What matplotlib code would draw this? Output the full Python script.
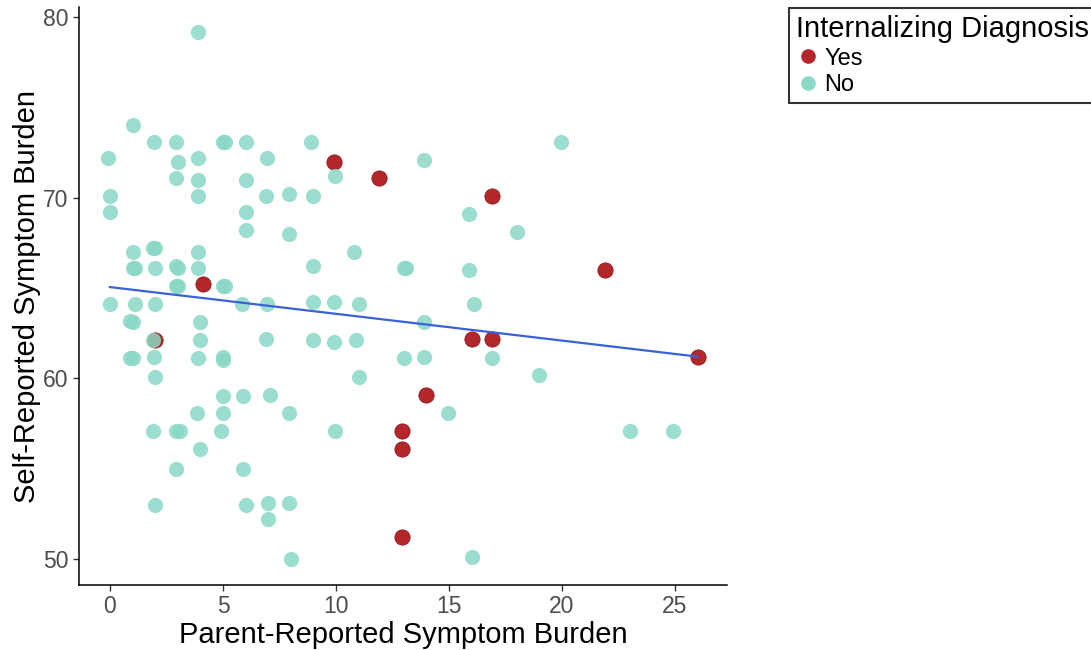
import numpy as np
import matplotlib
matplotlib.use("Agg")
import matplotlib.pyplot as plt
from matplotlib.lines import Line2D

plt.rcParams["font.family"] = ["Liberation Sans", "DejaVu Sans"]

# parent- vs self-reported burden, split by internalizing diagnosis
no_x = [-0.1, 0.0, 0.0, 0.0, 1.0, 1.0, 1.0, 1.1, 1.0, 0.9, 1.1, 0.9, 1.0,
        1.95, 1.9, 2.0, 2.0, 2.0, 1.9, 1.95, 2.0, 1.9, 2.0,
        2.9, 3.0, 2.9, 2.9, 3.0, 2.9, 3.0, 2.9, 3.1, 2.9,
        3.9, 3.9, 3.9, 3.9, 3.9, 3.9, 4.0, 4.0, 3.9, 3.85, 4.0,
        5.0, 5.1, 5.0, 5.1, 5.0, 5.0, 5.0, 5.0, 4.9,
        6.0, 6.0, 6.0, 6.0, 5.85, 5.9, 5.9, 6.0,
        6.95, 6.9, 6.95, 6.9, 7.1, 7.0, 7.0,
        7.9, 7.9, 7.9, 7.9, 8.0,
        8.9, 9.0, 9.0, 9.0, 9.0,
        9.95, 9.9, 9.9, 9.95,
        10.8, 11.0, 10.9, 11.0,
        13.0, 13.1, 13.0, 13.9, 13.9, 13.9, 14.95,
        15.9, 15.9, 16.1, 16.0, 16.9, 18.0, 19.0, 19.95, 23.0, 24.9]
no_y = [72.2, 70.1, 69.2, 64.1, 74.0, 67.0, 66.1, 66.1, 63.1, 63.2, 64.1, 61.1, 61.1,
        73.1, 67.2, 67.2, 66.1, 64.1, 62.1, 61.2, 60.1, 57.1, 53.0,
        73.1, 72.0, 71.1, 66.2, 66.1, 65.1, 65.1, 57.1, 57.1, 55.0,
        79.2, 72.2, 71.0, 70.1, 67.0, 66.1, 63.1, 62.1, 61.1, 58.1, 56.1,
        73.1, 73.1, 65.1, 65.1, 61.2, 61.0, 59.0, 58.1, 57.1,
        73.1, 71.0, 69.2, 68.2, 64.1, 59.0, 55.0, 53.0,
        72.2, 70.1, 64.1, 62.2, 59.1, 53.1, 52.2,
        70.2, 68.0, 58.1, 53.1, 50.0,
        73.1, 70.1, 66.2, 64.2, 62.1,
        71.2, 64.2, 62.0, 57.1,
        67.0, 64.1, 62.1, 60.1,
        66.1, 66.1, 61.1, 72.1, 63.1, 61.2, 58.1,
        69.1, 66.0, 64.1, 50.1, 61.1, 68.1, 60.2, 73.1, 57.1, 57.1]
yes_x = [2.0, 4.1, 9.9, 11.9, 16.9, 21.9, 16.0, 16.9, 14.0, 12.9, 12.9, 12.9, 26.0]
yes_y = [62.1, 65.2, 72.0, 71.1, 70.1, 66.0, 62.2, 62.2, 59.1, 57.1, 56.1, 51.2, 61.2]

xticks = [0, 5, 10, 15, 20, 25]
yticks = [50, 60, 70, 80]

RED = "#b3262a"
TEAL = "#8ad8c6"
BLUE = "#3a62d8"

fig = plt.figure(figsize=(10.91, 6.5), dpi=100)
ax = fig.add_axes([0.0724, 0.1, 0.594, 0.889])

ax.scatter(yes_x, yes_y, s=120, color=RED, edgecolors="#8e1b1f", linewidths=0.6,
           zorder=2)
ax.scatter(no_x, no_y, s=120, color=TEAL, alpha=0.85, linewidths=0, zorder=2)

# least-squares line over all observations
all_x = np.array(no_x + yes_x)
all_y = np.array(no_y + yes_y)
slope, icept = np.polyfit(all_x, all_y, 1)
xs = np.linspace(np.round(all_x).min(), all_x.max(), 50)
ax.plot(xs, icept + slope * xs, color=BLUE, lw=1.6, zorder=3)

ax.set_xlim(-1.37, 27.3)
ax.set_ylim(48.56, 80.55)
ax.set_xticks(xticks)
ax.set_yticks(yticks)
for s in ["top", "right"]:
    ax.spines[s].set_visible(False)
for s in ["left", "bottom"]:
    ax.spines[s].set_linewidth(1.1)
ax.tick_params(axis="both", labelsize=16.5, labelcolor="#4d4d4d", color="#333333",
               length=4, width=1)
ax.set_xlabel("Parent-Reported Symptom Burden", fontsize=21, labelpad=2)
ax.set_ylabel("Self-Reported Symptom Burden", fontsize=21, labelpad=1.5)

handles = [Line2D([], [], marker="o", ls="", color=RED, markersize=9.5),
           Line2D([], [], marker="o", ls="", color=TEAL, markersize=9.5)]
leg = fig.legend(handles, ["Yes", "No"], title="Internalizing Diagnosis",
                 loc="upper left", bbox_to_anchor=(0.723, 0.988),
                 borderaxespad=0, fontsize=17, title_fontsize=21,
                 frameon=True, fancybox=False, handletextpad=0.2,
                 handlelength=1.0, labelspacing=0.2, borderpad=0.3,
                 alignment="left")
leg.get_frame().set_edgecolor("black")
leg.get_frame().set_linewidth(1.5)

fig.savefig("out.png", dpi=100)
